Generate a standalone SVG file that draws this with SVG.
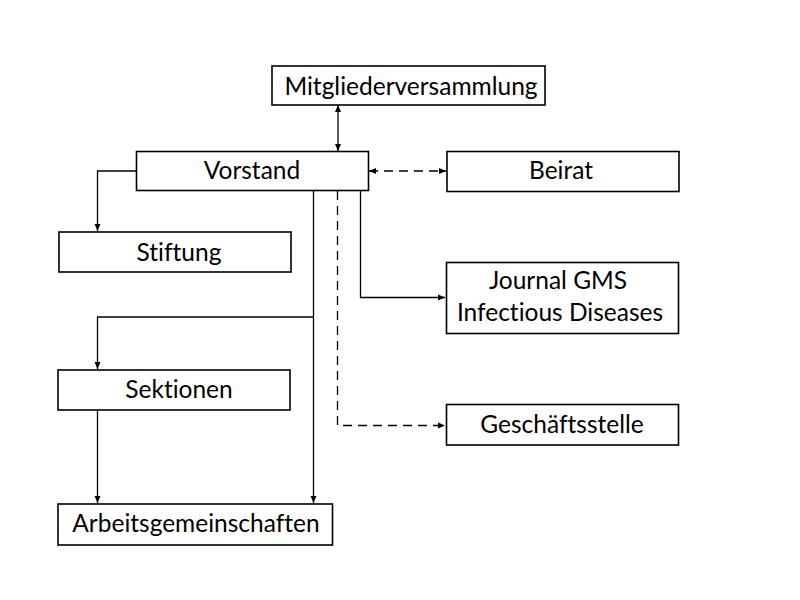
<svg xmlns="http://www.w3.org/2000/svg" width="800" height="600" viewBox="0 0 800 600">
<style>
.box{fill:#fff;stroke:#000;stroke-width:1.6}
.t{font-family:Lato,"Open Sans","Liberation Sans",sans-serif;font-size:24.5px;fill:#000;text-anchor:middle;font-variant-ligatures:none}
.c{fill:none;stroke:#000;stroke-width:1.3}
.d{stroke-dasharray:9,6}
</style>
<defs>
<marker id="a" markerWidth="8" markerHeight="8" refX="7" refY="4" orient="auto" markerUnits="userSpaceOnUse">
<path d="M0,1 L7,4 L0,7 Z" fill="#000"/>
</marker>
<marker id="s" markerWidth="8" markerHeight="8" refX="1" refY="4" orient="auto" markerUnits="userSpaceOnUse">
<path d="M8,1 L1,4 L8,7 Z" fill="#000"/>
</marker>
</defs>
<rect width="800" height="600" fill="#fff"/>
<g id="connectors">
<path class="c" d="M338,105 V151" marker-start="url(#s)" marker-end="url(#a)"/>
<path class="c d" d="M369,171 H446" marker-start="url(#s)" marker-end="url(#a)"/>
<path class="c" d="M136,171 H97.5 V231" marker-end="url(#a)"/>
<path class="c" d="M313.5,191 V503" marker-end="url(#a)"/>
<path class="c" d="M313.5,317 H97.5 V369" marker-end="url(#a)"/>
<path class="c" d="M97.5,410 V503" marker-end="url(#a)"/>
<path class="c" d="M360.5,191 V297.5 H445" marker-end="url(#a)"/>
<path class="c d" d="M337.5,191 V425.5 H445" marker-end="url(#a)"/>
</g>
<g id="mitgliederversammlung"><rect class="box" x="272" y="66" width="273" height="39"/><text class="t" x="411" y="95">Mitgliederversammlung</text></g>
<g id="vorstand"><rect class="box" x="136.5" y="151.5" width="232" height="39"/><text class="t" x="252" y="179">Vorstand</text></g>
<g id="beirat"><rect class="box" x="447" y="151.5" width="232" height="40"/><text class="t" x="561" y="179">Beirat</text></g>
<g id="stiftung"><rect class="box" x="59" y="232" width="232" height="40"/><text class="t" x="179" y="261">Stiftung</text></g>
<g id="journal"><rect class="box" x="446.5" y="262.5" width="232" height="71"/><text class="t" x="558" y="289">Journal GMS</text><text class="t" x="560" y="321">Infectious Diseases</text></g>
<g id="sektionen"><rect class="box" x="58" y="370" width="232" height="40"/><text class="t" x="179" y="398">Sektionen</text></g>
<g id="geschaeftsstelle"><rect class="box" x="446.5" y="404.5" width="232" height="40.5"/><text class="t" x="562" y="433">Geschäftsstelle</text></g>
<g id="arbeitsgemeinschaften"><rect class="box" x="58" y="504" width="274.5" height="41"/><text class="t" x="196" y="532">Arbeitsgemeinschaften</text></g>
</svg>
